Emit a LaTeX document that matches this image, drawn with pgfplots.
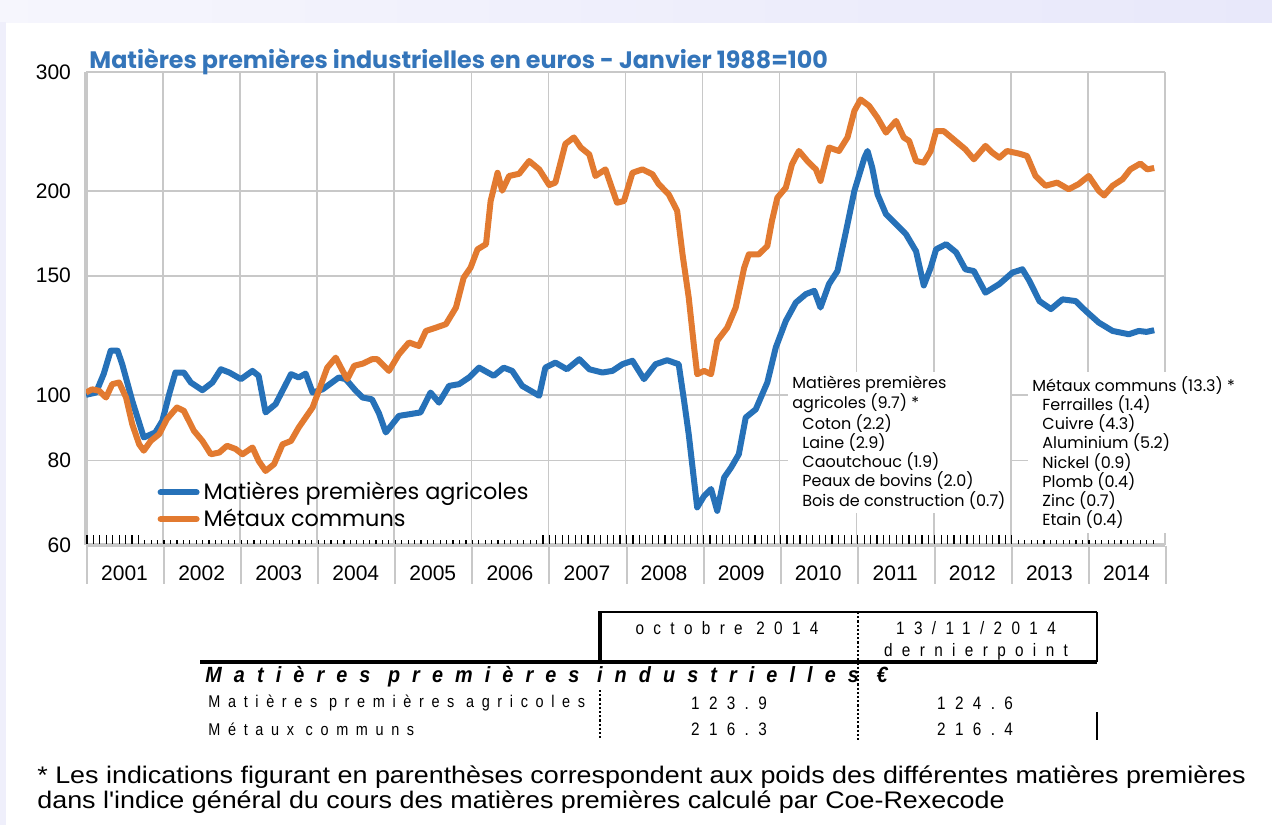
\documentclass[border=0pt]{standalone}
\usepackage{fontspec}
\setmainfont{Liberation Sans}
\newfontfamily\pop{Poppins}
\newfontfamily\tabf[LetterSpace=52,FakeStretch=0.85]{Liberation Sans}
\newfontfamily\tabl[LetterSpace=45,FakeStretch=0.85]{Liberation Sans}
\newfontfamily\tabh[LetterSpace=55,FakeStretch=0.9]{Liberation Sans}
\newfontfamily\foot[FakeStretch=1.12]{Liberation Sans}
\usepackage{pgfplots}
\pgfplotsset{compat=1.18}
\definecolor{agri}{RGB}{38,113,184}
\definecolor{metal}{RGB}{226,122,48}
\definecolor{ttl}{RGB}{52,117,186}
\definecolor{grd}{RGB}{200,200,200}
\definecolor{lav}{RGB}{232,232,250}

\begin{document}
\begin{tikzpicture}
% page and slide border
\fill[white] (0,0) rectangle (636pt,-412.5pt);
\shade[left color=lav!40, right color=lav] (0,0) rectangle (636pt,-11pt);
\fill[lav!70] (0,-11pt) rectangle (3pt,-412.5pt);

\begin{axis}[
  at={(43pt,-272.5pt)}, anchor=south west,
  scale only axis, width=539.5pt, height=236.5pt,
  xmin=2001, xmax=2015,
  ymode=log, ymin=60, ymax=300,
  axis lines*=left,
  axis line style={grd, line width=2pt},
  tick pos=left,
  xtick={2001,...,2015}, xticklabels={},
  major tick length=0pt,
  tick style={draw=none},
  xmajorgrids, ymajorgrids,
  grid style={grd, line width=0.8pt},
  ytick={60,80,100,150,200,300},
  yticklabels={60,80,100,150,200,300},
  yticklabel style={font=\fontsize{10.5}{12}\selectfont, xshift=-4pt},
  extra x ticks={2001.5,2002.5,2003.5,2004.5,2005.5,2006.5,2007.5,2008.5,2009.5,2010.5,2011.5,2012.5,2013.5,2014.5},
  extra x tick labels={2001,2002,2003,2004,2005,2006,2007,2008,2009,2010,2011,2012,2013,2014},
  extra x tick style={grid=none},
  xticklabel style={font=\fontsize{10.5}{12}\selectfont, yshift=-7pt},
  legend style={at={(0.066,0.142)}, anchor=north west, draw=none, fill=none,
    font=\pop\fontsize{11.2}{13}\selectfont, inner sep=0pt, row sep=-1pt,
    cells={anchor=west}},
  legend image code/.code={\draw[#1, line cap=round] (0pt,0pt) -- (18pt,0pt);},
]
\addplot[agri, line width=3pt, line join=round] coordinates {
(2001.00,100)(2001.13,100.8)(2001.23,107.4)(2001.32,116.2)(2001.41,116.2)(2001.47,111)
(2001.60,98)(2001.75,86.5)(2001.90,88)(2001.99,91.5)(2002.08,100.3)(2002.16,107.9)
(2002.27,107.9)(2002.36,104.3)(2002.51,101.6)(2002.64,104.3)(2002.75,109.1)(2002.86,107.9)
(2003.01,105.5)(2003.16,108.5)(2003.24,106.7)(2003.33,94.2)(2003.46,96.9)(2003.66,107.3)
(2003.76,106.1)(2003.85,107.5)(2003.94,100.8)(2004.07,101.9)(2004.28,106.1)(2004.37,105.5)
(2004.50,101.4)(2004.59,99.1)(2004.71,98.5)(2004.80,94)(2004.89,88)(2005.06,93.1)
(2005.19,93.6)(2005.34,94.2)(2005.47,100.8)(2005.58,97.4)(2005.71,103.1)(2005.84,103.7)
(2005.97,106.1)(2006.10,109.7)(2006.29,106.7)(2006.42,109.7)(2006.53,108.5)(2006.66,103.1)
(2006.88,99.7)(2006.96,109.7)(2007.09,111.6)(2007.24,109.1)(2007.40,112.9)(2007.53,109.1)
(2007.70,107.9)(2007.83,108.5)(2007.96,111)(2008.09,112.3)(2008.24,105.5)(2008.39,111)
(2008.54,112.5)(2008.69,111)(2008.76,98)(2008.82,87.5)(2008.89,74.6)(2008.93,68.2)
(2009.02,70.9)(2009.11,72.6)(2009.19,67.4)(2009.28,75.5)(2009.37,78.1)(2009.47,81.7)
(2009.56,92.6)(2009.69,95.2)(2009.84,104.3)(2009.95,117.5)(2010.08,128.6)(2010.21,136.9)
(2010.34,140.9)(2010.45,142.5)(2010.53,134.6)(2010.64,145.8)(2010.75,152.4)(2010.86,174.3)
(2010.97,200.3)(2011.10,224.1)(2011.14,229.3)(2011.20,217)(2011.27,197.9)(2011.38,184.9)
(2011.51,178.8)(2011.64,172.7)(2011.77,163)(2011.87,145.1)(2011.96,154.2)(2012.03,164.1)
(2012.16,167)(2012.29,162.4)(2012.41,153.3)(2012.52,152.4)(2012.67,141.6)(2012.85,145.8)
(2013.02,151.6)(2013.15,153.3)(2013.24,147.4)(2013.37,137.6)(2013.52,133.9)(2013.67,138.4)
(2013.84,137.6)(2013.97,133.1)(2014.14,127.9)(2014.32,124.3)(2014.53,122.9)(2014.66,124.3)
(2014.76,123.9)(2014.86,124.6)
};
\addlegendentry{Matières premières agricoles}
\addplot[metal, line width=3pt, line join=round] coordinates {
(2001.00,100.8)(2001.08,101.9)(2001.17,101.4)(2001.26,99.1)(2001.34,103.7)(2001.43,104.3)
(2001.52,99.1)(2001.60,90.5)(2001.69,84.5)(2001.75,82.7)(2001.84,85.5)(2001.95,87.5)
(2002.05,92.1)(2002.18,95.8)(2002.27,94.7)(2002.40,88.5)(2002.51,85.5)(2002.62,81.7)
(2002.73,82.2)(2002.83,84.1)(2002.94,83.2)(2003.03,81.7)(2003.16,83.6)(2003.24,79.9)
(2003.33,77.2)(2003.44,79)(2003.55,84.5)(2003.66,85.5)(2003.76,89.5)(2003.94,95.8)
(2004.02,101.4)(2004.13,109.7)(2004.24,113.5)(2004.33,108.5)(2004.39,105.5)(2004.48,110.4)
(2004.59,111.2)(2004.71,112.9)(2004.78,112.9)(2004.93,108.5)(2005.06,114.8)(2005.19,119.5)
(2005.32,118.1)(2005.41,124.3)(2005.54,125.7)(2005.67,127.2)(2005.80,134.6)(2005.90,149)
(2005.99,154.2)(2006.08,164.1)(2006.19,167)(2006.25,193.4)(2006.34,212.9)(2006.40,200.3)
(2006.49,210.6)(2006.62,212.2)(2006.75,221.6)(2006.88,215.4)(2007.01,204.2)(2007.09,205.9)
(2007.22,234.9)(2007.33,240.1)(2007.42,232)(2007.53,226.6)(2007.61,210.6)(2007.74,215.4)
(2007.89,192.3)(2007.98,193.4)(2008.09,212.9)(2008.22,215.4)(2008.35,211.8)(2008.43,204.9)
(2008.56,197.9)(2008.67,187.1)(2008.74,161.3)(2008.82,139.3)(2008.89,117.5)(2008.93,107.3)
(2009.02,108.5)(2009.11,107.3)(2009.19,120.2)(2009.32,125.7)(2009.43,134.6)(2009.54,154.2)
(2009.60,161.3)(2009.73,161.3)(2009.84,166)(2009.90,180.8)(2009.97,195.6)(2010.08,202.4)
(2010.16,219.2)(2010.25,229.3)(2010.36,221.6)(2010.47,215.4)(2010.53,207.1)(2010.64,232)
(2010.77,229.3)(2010.88,240.1)(2010.97,262.9)(2011.05,273.2)(2011.16,267.4)(2011.27,256.7)
(2011.38,244.1)(2011.51,254)(2011.61,240.1)(2011.68,237.3)(2011.77,221.6)(2011.87,220.4)
(2011.96,229.3)(2012.03,245.3)(2012.13,245.3)(2012.28,237.3)(2012.41,230.6)(2012.52,222.9)
(2012.67,233.3)(2012.76,228)(2012.85,224.1)(2012.95,229.3)(2013.11,227.2)(2013.21,225.4)
(2013.32,210.6)(2013.45,203.7)(2013.60,205.9)(2013.75,201.3)(2013.88,204.9)(2014.01,210.6)
(2014.14,200.3)(2014.21,197.1)(2014.32,203.7)(2014.45,208.3)(2014.55,215.4)(2014.68,219.7)
(2014.77,215.4)(2014.86,216.4)
};
\addlegendentry{Métaux communs}
\end{axis}

\begin{scope}[x=0.5pt, y=-0.5pt]
% year separators below the axis
\foreach \k in {0,...,14} \draw[grd, line width=1pt] ({87+77.07*\k},546) -- ++(0,38);
% monthly tick marks along the bottom axis
\foreach \m in {0,...,166} {
  \pgfmathsetmacro\tl{((\m<9) || (\m>70 && \m<145)) ? 9 : 4}
  \draw[black, line width=0.6pt] ({87+77.07*\m/12},544) -- ++(0,-\tl);
}
% title
\node[anchor=base west, inner sep=0pt, text=ttl, font=\pop\bfseries\fontsize{11.9}{13}\selectfont]
  at (89,68) {Matières premières industrielles en euros - Janvier 1988=100};
% weights
\node[anchor=north west, fill=white, inner sep=2pt, align=left,
  font=\pop\fontsize{8}{9.6}\selectfont] at (788,372)
  {Matières premières\\agricoles (9.7) *\\
   \hspace*{5pt}Coton (2.2)\\ \hspace*{5pt}Laine (2.9)\\ \hspace*{5pt}Caoutchouc (1.9)\\
   \hspace*{5pt}Peaux de bovins (2.0)\\ \hspace*{5pt}Bois de construction (0.7)};
\node[anchor=north west, fill=white, inner sep=2pt, align=left,
  font=\pop\fontsize{8}{9.6}\selectfont] at (1028,372)
  {Métaux communs (13.3) *\\
   \hspace*{5pt}Ferrailles (1.4)\\ \hspace*{5pt}Cuivre (4.3)\\ \hspace*{5pt}Aluminium (5.2)\\
   \hspace*{5pt}Nickel (0.9)\\ \hspace*{5pt}Plomb (0.4)\\ \hspace*{5pt}Zinc (0.7)\\
   \hspace*{5pt}Etain (0.4)};
% table
\draw[line width=0.6pt] (600,612) -- (1097,612);
\draw[line width=1.8pt] (600,611) -- (600,662);
\draw[line width=0.6pt] (1097,612) -- (1097,662);
\draw[line width=1.8pt] (200,662) -- (1097,662);
\draw[line width=1.1pt, densely dotted] (858,612) -- (858,740);
\draw[line width=1.1pt, densely dotted] (600,690) -- (600,740);
\draw[line width=0.6pt] (1097,712) -- (1097,740);
\begin{scope}[every node/.style={inner sep=0pt, font=\tabf\fontsize{9}{10}\selectfont}]
\node at (727,628) {octobre 2014};
\node at (976,628) {13/11/2014};
\node at (976,652) {dernierpoint};
\node[anchor=west, font=\tabl\fontsize{8.5}{10}\selectfont] at (208,703) {Matières premières agricoles};
\node[anchor=west, font=\tabl\fontsize{8.5}{10}\selectfont] at (208,729) {Métaux communs};
\node at (729,703) {123.9};
\node at (975,703) {124.6};
\node at (729,729) {216.3};
\node at (975,729) {216.4};
\node[anchor=west, font=\tabh\bfseries\itshape\fontsize{11}{12}\selectfont] at (205,677)
  {Matières premières industrielles €};
\end{scope}
% footnote
\begin{scope}[every node/.style={anchor=west, inner sep=0pt, font=\foot\fontsize{12}{14}\selectfont}]
\node at (37,777) {* Les indications figurant en parenthèses correspondent aux poids des différentes matières premières};
\node at (37,802) {dans l'indice général du cours des matières premières calculé par Coe-Rexecode};
\end{scope}
\end{scope}
\end{tikzpicture}
\end{document}
